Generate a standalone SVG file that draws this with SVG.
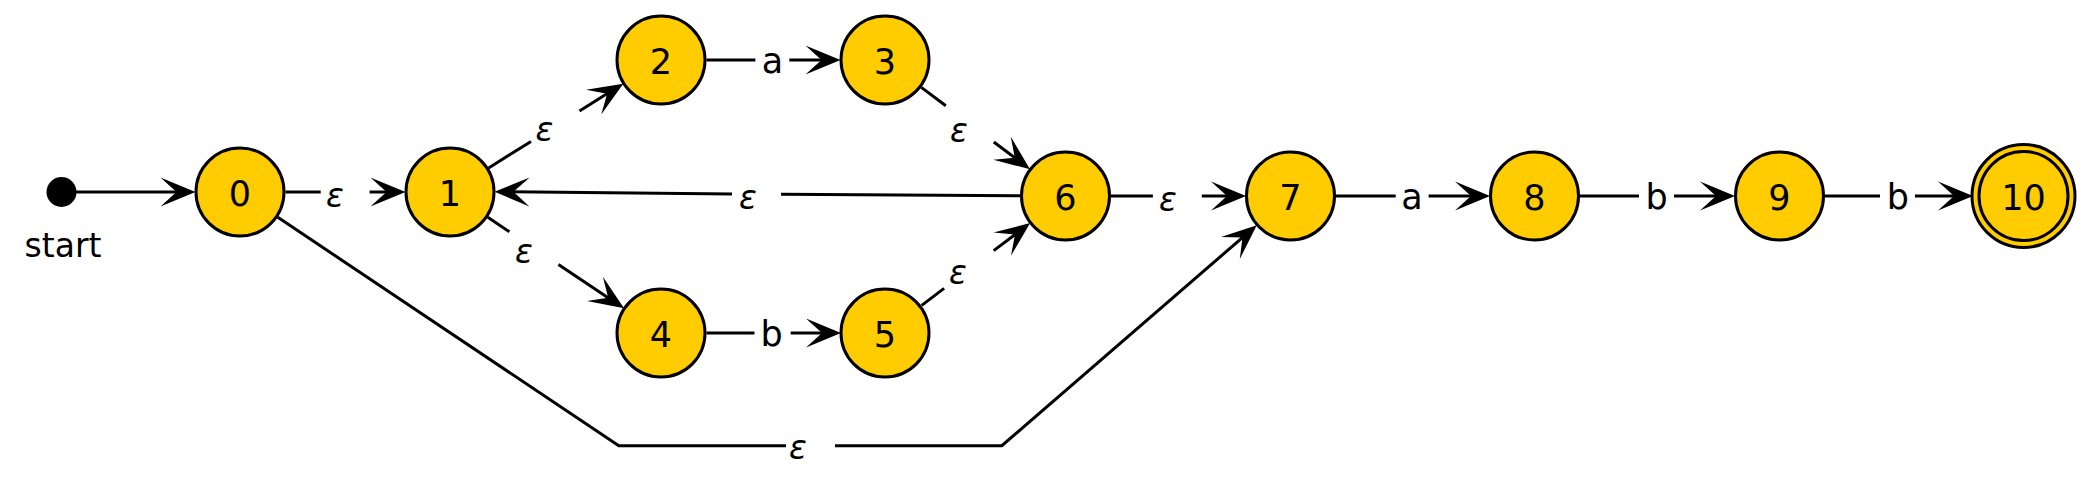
<svg xmlns="http://www.w3.org/2000/svg" width="2091" height="489" viewBox="0 0 2091 489">
<style>
.st{fill:#FFCC00;stroke:#000;stroke-width:3}
.lbl{font-family:"DejaVu Sans",sans-serif;font-size:35px;text-anchor:middle;fill:#000}
.sl{font-family:"DejaVu Sans",sans-serif;font-size:33px;text-anchor:middle;fill:#000}
.eps{font-family:"DejaVu Sans",sans-serif;font-size:33px;font-style:italic;text-anchor:middle;fill:#000}
.e{fill:none;stroke:#000;stroke-width:3}
.ea{fill:none;stroke:#000;stroke-width:3;marker-end:url(#arr)}
</style>
<defs>
<marker id="arr" viewBox="0 0 35 30" refX="19" refY="15" markerWidth="35" markerHeight="30" markerUnits="userSpaceOnUse" orient="auto">
<path d="M0,0.5 L35,15 L0,29.5 L16,15 Z" fill="#000"/>
</marker>
</defs>
<rect width="2091" height="489" fill="#fff"/>
<g id="connectors">
<line class="ea" x1="76" y1="192" x2="179.5" y2="192"/>
<line class="e" x1="285.5" y1="192" x2="320.7" y2="192"/>
<line class="ea" x1="369.6" y1="192" x2="389.5" y2="192"/>
<text class="eps" x="335" y="206.5">ε</text>
<line class="e" x1="488.6" y1="167.9" x2="531" y2="141.4"/>
<line class="ea" x1="579.5" y1="110.9" x2="609.7" y2="92.1"/>
<text class="eps" x="544.5" y="141">ε</text>
<line class="e" x1="706.5" y1="60" x2="755.4" y2="60"/>
<line class="ea" x1="789.3" y1="60" x2="824.5" y2="60"/>
<text class="lbl" x="772.5" y="73">a</text>
<line class="e" x1="921.3" y1="87.4" x2="945.8" y2="105.8"/>
<line class="ea" x1="993.8" y1="142" x2="1017.2" y2="159.6"/>
<text class="eps" x="959" y="142">ε</text>
<line class="e" x1="487.8" y1="217.3" x2="509.4" y2="231.8"/>
<line class="ea" x1="558.4" y1="264.6" x2="610.7" y2="299.4"/>
<text class="eps" x="524" y="262.7">ε</text>
<line class="e" x1="706.5" y1="333" x2="754.5" y2="333"/>
<line class="ea" x1="790.7" y1="333" x2="825" y2="333"/>
<text class="lbl" x="771.7" y="346">b</text>
<line class="e" x1="921.7" y1="305.4" x2="944.1" y2="288.4"/>
<line class="ea" x1="993.7" y1="250.6" x2="1017.4" y2="232.7"/>
<text class="eps" x="958" y="283.7">ε</text>
<line class="e" x1="1020" y1="195.7" x2="781" y2="194.2"/>
<line class="ea" x1="732" y1="193.9" x2="510.5" y2="191.8"/>
<text class="eps" x="748" y="209">ε</text>
<line class="e" x1="1111" y1="196" x2="1152.9" y2="196"/>
<line class="ea" x1="1201.8" y1="196" x2="1230" y2="196"/>
<text class="eps" x="1168" y="210.5">ε</text>
<polyline class="e" points="277.8,217.3 618.8,445.7 786,445.7"/>
<polyline class="ea" points="835,445.7 1001.8,445.7 1244.7,235.6"/>
<text class="eps" x="798" y="459.4">ε</text>
<line class="e" x1="1336" y1="196" x2="1395.7" y2="196"/>
<line class="ea" x1="1428.6" y1="196" x2="1474" y2="196"/>
<text class="lbl" x="1412" y="209">a</text>
<line class="e" x1="1580" y1="196" x2="1639" y2="196"/>
<line class="ea" x1="1674" y1="196" x2="1719" y2="196"/>
<text class="lbl" x="1656.5" y="209">b</text>
<line class="e" x1="1825" y1="196" x2="1880" y2="196"/>
<line class="ea" x1="1915" y1="196" x2="1957" y2="196"/>
<text class="lbl" x="1897.8" y="209">b</text>
</g>
<g id="start">
<circle cx="61.5" cy="192" r="15" fill="#000"/>
<text class="sl" x="63" y="256.5">start</text>
</g>
<g id="n0"><circle class="st" cx="240" cy="192" r="44"/><text class="lbl" x="240" y="205.5">0</text></g>
<g id="n1"><circle class="st" cx="450" cy="192" r="44"/><text class="lbl" x="450" y="205.5">1</text></g>
<g id="n2"><circle class="st" cx="661" cy="60" r="44"/><text class="lbl" x="661" y="73.5">2</text></g>
<g id="n3"><circle class="st" cx="885" cy="60" r="44"/><text class="lbl" x="885" y="73.5">3</text></g>
<g id="n4"><circle class="st" cx="661" cy="333" r="44"/><text class="lbl" x="661" y="346.5">4</text></g>
<g id="n5"><circle class="st" cx="885" cy="333" r="44"/><text class="lbl" x="885" y="346.5">5</text></g>
<g id="n6"><circle class="st" cx="1065.5" cy="196" r="44"/><text class="lbl" x="1065.5" y="209.5">6</text></g>
<g id="n7"><circle class="st" cx="1290.5" cy="196" r="44"/><text class="lbl" x="1290.5" y="209.5">7</text></g>
<g id="n8"><circle class="st" cx="1534.5" cy="196" r="44"/><text class="lbl" x="1534.5" y="209.5">8</text></g>
<g id="n9"><circle class="st" cx="1779.5" cy="196" r="44"/><text class="lbl" x="1779.5" y="209.5">9</text></g>
<g id="n10"><circle class="st" cx="2023.5" cy="196" r="51.5"/><circle class="st" cx="2023.5" cy="196" r="44.5"/><text class="lbl" x="2023.5" y="209.5">10</text></g>
</svg>
